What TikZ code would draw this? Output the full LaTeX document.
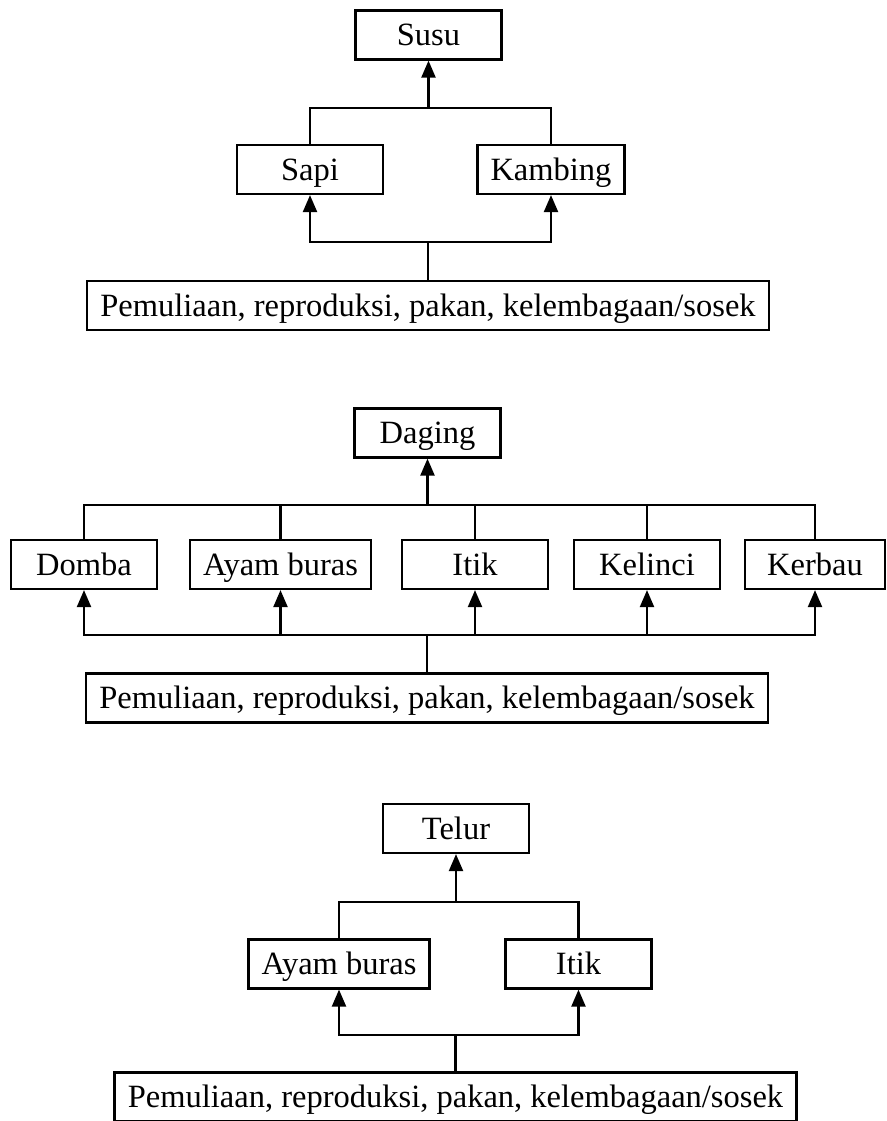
\documentclass[tikz,border=0pt]{standalone}
\usepackage{fontspec}
\setmainfont{Liberation Serif}
\usetikzlibrary{arrows.meta,positioning}

\begin{document}
\begin{tikzpicture}[
  x=1pt, y=-1pt,
  box/.style={rectangle, draw, line width=2.2pt, minimum width=146pt,
    minimum height=49pt, inner xsep=13pt, inner ysep=0pt,
    text height=22pt, text depth=1pt,
    font=\fontsize{32.5}{38}\selectfont, text centered},
  wide/.style={box, minimum width=682pt},
  link/.style={line width=2.2pt},
  up/.style={link, -{Triangle[length=17pt,width=14pt]}},
]
  \useasboundingbox (0,0) rectangle (886,1121);

  \node[box] (susu) at (428.5,35) {Susu};
  \node[box] (sapi) at (310,169.5) {Sapi};
  \node[box] (kambing) at (551,169.5) {Kambing};
  \node[wide] (base1) at (428,305.5) {Pemuliaan, reproduksi, pakan, kelembagaan/sosek};
  \coordinate (top1) at (susu.south |- 0,108);
  \coordinate (bot1) at (base1.north |- 0,242);

  \draw[link] (sapi.north) |- (top1) -| (kambing.north);
  \draw[up] (top1) -- (susu.south);
  \draw[link] (base1.north) -- (bot1);
  \draw[up] (bot1) -| (sapi.south);
  \draw[up] (bot1) -| (kambing.south);

  \node[box] (daging) at (427.5,433) {Daging};
  \node[box] (domba) at (84,564.5) {Domba};
  \node[box] (ayam) at (280.5,564.5) {Ayam buras};
  \node[box] (itik) at (475,564.5) {Itik};
  \node[box] (kelinci) at (647,564.5) {Kelinci};
  \node[box, minimum width=140pt] (kerbau) at (815,564.5) {Kerbau};
  \node[wide] (base2) at (427,698) {Pemuliaan, reproduksi, pakan, kelembagaan/sosek};
  \coordinate (top2) at (daging.south |- 0,505);
  \coordinate (bot2) at (base2.north |- 0,635);

  \draw[link] (domba.north) |- (top2) -| (kerbau.north);
  \foreach \n in {ayam,itik,kelinci}
    \draw[link] (\n.north) -- (\n.north |- top2);
  \draw[up] (top2) -- (daging.south);
  \draw[link] (base2.north) -- (bot2);
  \foreach \n in {domba,ayam,itik,kelinci,kerbau}
    \draw[up] (bot2) -| (\n.south);

  \node[box] (telur) at (456,828.5) {Telur};
  \node[box] (ayamtelur) at (339,964) {Ayam buras};
  \node[box] (itiktelur) at (578.5,964) {Itik};
  \node[wide] (base3) at (455.5,1097) {Pemuliaan, reproduksi, pakan, kelembagaan/sosek};
  \coordinate (top3) at (telur.south |- 0,902);
  \coordinate (bot3) at (base3.north |- 0,1035);

  \draw[link] (ayamtelur.north) |- (top3) -| (itiktelur.north);
  \draw[up] (top3) -- (telur.south);
  \draw[link] (base3.north) -- (bot3);
  \draw[up] (bot3) -| (ayamtelur.south);
  \draw[up] (bot3) -| (itiktelur.south);
\end{tikzpicture}
\end{document}
